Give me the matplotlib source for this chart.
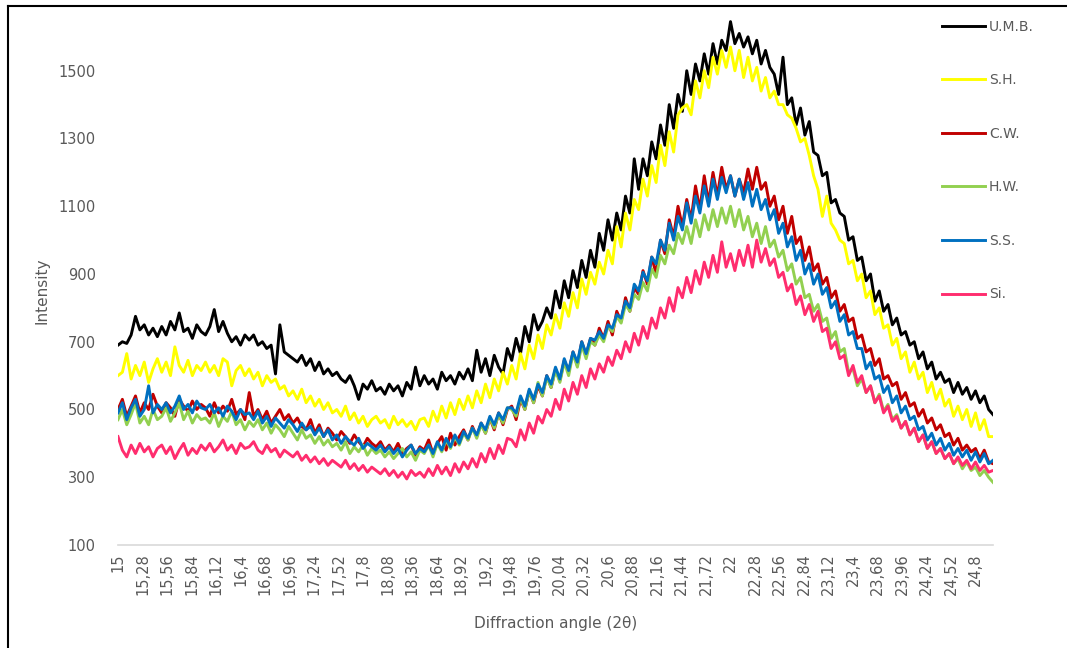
import numpy as np
import matplotlib
matplotlib.use("Agg")
import matplotlib.pyplot as plt
from matplotlib.lines import Line2D

# ------------------------------------------------------------
# data (2theta step 0.05 from 15 to 25)
# ------------------------------------------------------------
two_theta = np.round(np.arange(15.0, 25.0001, 0.05), 2)

umb = [
    690, 700, 695, 720, 775, 735, 750, 720, 740, 715,
    745, 720, 760, 735, 785, 730, 740, 710, 750, 730,
    720, 745, 795, 730, 760, 725, 700, 715, 690, 720,
    705, 720, 690, 700, 680, 690, 605, 750, 670, 660,
    650, 640, 660, 630, 650, 615, 640, 605, 620, 600,
    610, 590, 580, 600, 570, 530, 575, 560, 585, 555,
    565, 545, 575, 555, 570, 540, 580, 560, 625, 570,
    600, 575, 590, 560, 610, 585, 600, 575, 610, 590,
    620, 585, 675, 610, 650, 600, 660, 625, 605, 680,
    645, 710, 665, 745, 700, 780, 735, 760, 800, 770,
    850, 800, 880, 830, 910, 860, 940, 890, 970, 920,
    1020, 970, 1060, 1000, 1080, 1030, 1130, 1080, 1240, 1150,
    1240, 1190, 1290, 1240, 1340, 1280, 1400, 1330, 1430, 1380,
    1500, 1430, 1520, 1470, 1550, 1490, 1580, 1520, 1590, 1560,
    1645, 1580, 1610, 1570, 1600, 1550, 1590, 1520, 1560, 1510,
    1490, 1430, 1540, 1400, 1420, 1340, 1390, 1310, 1350, 1260,
    1250, 1190, 1200, 1110, 1120, 1080, 1070, 1000, 1010, 940,
    950, 880, 900, 820, 850, 790, 810, 750, 770, 720,
    730, 690, 700, 650, 670, 620, 640, 590, 610, 580,
    590, 550, 580, 545, 565, 530, 555, 520, 540, 500,
    485,
]

sh = [
    600, 610, 665, 590, 630, 600, 640, 580, 620, 650,
    610, 640, 600, 685, 630, 610, 645, 600, 630, 615,
    640, 610, 630, 600, 650, 640, 570, 615, 630, 600,
    620, 590, 610, 570, 600, 580, 590, 560, 570, 540,
    555, 530, 560, 520, 540, 510, 530, 500, 520, 490,
    500, 480, 510, 470, 490, 460, 480, 450, 470, 480,
    460, 470, 445, 480, 455, 470, 450, 465, 440, 470,
    475, 450, 495, 465, 510, 475, 520, 485, 530, 500,
    540, 505, 555, 520, 575, 535, 590, 555, 610, 575,
    630, 590, 665, 620, 690, 650, 720, 680, 750, 720,
    780, 740, 815, 775, 845, 800, 885, 840, 905, 870,
    935, 900, 970, 930, 1040, 980, 1080, 1030, 1120, 1090,
    1180, 1130, 1220, 1170, 1280, 1220, 1320, 1260, 1370, 1390,
    1400, 1370, 1470, 1420, 1500, 1450, 1540, 1490, 1560, 1510,
    1570, 1500, 1560, 1480, 1540, 1470, 1510, 1440, 1480, 1420,
    1440, 1400, 1400, 1370, 1360, 1330, 1290, 1300, 1250, 1190,
    1150, 1070, 1130, 1050, 1030, 1000, 990, 930, 940, 880,
    900, 830, 850, 780, 800, 740, 750, 690, 710, 650,
    670, 610, 640, 590, 610, 550, 580, 530, 560, 510,
    530, 480, 510, 470, 500, 450, 490, 440, 470, 420,
    420,
]

cw = [
    500, 530, 480, 510, 540, 490, 520, 500, 545, 510,
    490, 520, 505, 480, 530, 510, 495, 525, 500, 515,
    505, 480, 520, 490, 510, 495, 530, 485, 500, 470,
    550, 480, 500, 470, 495, 460, 480, 500, 470, 485,
    460, 475, 450, 440, 470, 430, 455, 420, 445, 430,
    410, 435, 420, 400, 425, 405, 390, 415, 400, 390,
    405, 380, 395, 375, 400, 370, 385, 395, 365, 390,
    380, 410, 370, 400, 420, 380, 430, 395, 420, 440,
    410, 450, 420, 460, 430, 475, 440, 490, 455, 500,
    510, 470, 530, 500, 555, 520, 570, 540, 600, 565,
    620, 585, 645, 610, 670, 630, 700, 660, 710, 690,
    740, 710, 760, 720, 790, 760, 830, 790, 860, 840,
    910, 870, 950, 900, 1000, 960, 1060, 1010, 1100, 1040,
    1120, 1060, 1160, 1090, 1190, 1110, 1200, 1130, 1215, 1150,
    1190, 1130, 1180, 1140, 1210, 1150, 1215, 1150, 1170, 1100,
    1130, 1060, 1100, 1020, 1070, 990, 1010, 940, 980, 910,
    930, 870, 890, 830, 850, 790, 810, 760, 770, 710,
    720, 670, 680, 630, 650, 590, 600, 570, 580, 530,
    550, 510, 520, 480, 500, 460, 475, 440, 455, 420,
    430, 395, 415, 380, 395, 375, 385, 355, 380, 345,
    340,
]

hw = [
    470, 500, 455, 485, 520, 460, 480, 455, 500, 470,
    480, 505, 465, 490, 520, 470, 495, 460, 485, 470,
    475, 460, 490, 450, 480, 465, 495, 455, 470, 440,
    465, 450, 470, 440, 460, 430, 455, 440, 420, 450,
    430, 410, 440, 415, 425, 400, 420, 395, 410, 390,
    400, 380, 405, 370, 390, 375, 395, 365, 385, 370,
    380, 360, 375, 355, 370, 385, 360, 375, 350, 380,
    370, 395, 360, 400, 375, 410, 385, 420, 395, 430,
    410, 445, 415, 455, 430, 475, 445, 485, 460, 505,
    500, 480, 535, 500, 555, 520, 580, 540, 595, 565,
    615, 580, 640, 600, 665, 625, 690, 650, 700, 690,
    720, 700, 745, 730, 775, 755, 810, 790, 840, 825,
    875, 850, 915, 890, 955, 930, 985, 960, 1020, 990,
    1040, 990, 1060, 1010, 1075, 1030, 1090, 1040, 1095, 1050,
    1100, 1040, 1090, 1030, 1070, 1010, 1050, 990, 1040, 980,
    1000, 950, 970, 910, 930, 870, 890, 830, 840, 790,
    810, 760, 770, 710, 730, 670, 680, 610, 620, 570,
    590, 550, 570, 520, 545, 495, 515, 470, 485, 445,
    465, 425, 445, 405, 425, 385, 405, 370, 385, 355,
    370, 340, 355, 325, 345, 320, 330, 305, 320, 300,
    285,
]

ss = [
    490, 520, 470, 505, 530, 480, 500, 570, 490, 515,
    500, 520, 490, 510, 540, 500, 515, 490, 525, 505,
    500, 515, 490, 505, 480, 510, 495, 470, 500, 485,
    490, 470, 495, 460, 480, 450, 475, 460, 445, 470,
    455, 435, 460, 440, 450, 425, 445, 420, 440, 410,
    425, 400, 420, 405, 395, 415, 385, 400, 390, 380,
    395, 375, 390, 370, 385, 360, 380, 395, 370, 385,
    375, 395, 370, 405, 380, 415, 390, 425, 400, 435,
    415, 445, 425, 460, 440, 480, 455, 490, 470, 505,
    505, 490, 540, 510, 560, 530, 575, 550, 600, 575,
    625, 590, 650, 615, 670, 640, 700, 665, 710, 705,
    730, 710, 750, 740, 780, 770, 820, 800, 870, 850,
    905, 880, 950, 930, 1000, 970, 1050, 1000, 1070, 1030,
    1110, 1050, 1130, 1080, 1160, 1100, 1180, 1120, 1185, 1140,
    1190, 1130, 1180, 1120, 1170, 1100, 1150, 1090, 1120, 1060,
    1090, 1020, 1050, 980, 1010, 940, 970, 900, 930, 870,
    900, 840, 860, 800, 820, 760, 780, 720, 730, 680,
    680, 620, 640, 590, 600, 550, 570, 520, 540, 490,
    510, 470, 480, 440, 450, 410, 430, 395, 415, 380,
    400, 365, 385, 360, 380, 350, 375, 345, 370, 340,
    350,
]

si = [
    420, 380, 360, 395, 370, 400, 375, 390, 360, 385,
    395, 370, 390, 355, 380, 400, 365, 385, 370, 395,
    380, 400, 375, 390, 410, 380, 395, 370, 400, 385,
    390, 405, 380, 370, 395, 375, 385, 360, 380, 370,
    360, 375, 350, 365, 345, 360, 340, 355, 335, 350,
    340, 330, 350, 325, 340, 320, 335, 315, 330, 320,
    310, 325, 305, 320, 300, 315, 295, 320, 305, 315,
    300, 325, 305, 335, 310, 330, 305, 340, 315, 345,
    325, 355, 330, 370, 345, 385, 355, 395, 370, 415,
    410, 390, 440, 410, 460, 430, 480, 460, 500, 480,
    530, 500, 560, 525, 580, 545, 600, 565, 620, 590,
    635, 610, 655, 630, 675, 650, 700, 670, 725, 690,
    745, 710, 770, 740, 800, 770, 830, 790, 860, 830,
    890, 845, 910, 870, 935, 890, 955, 905, 995, 920,
    960, 910, 970, 925, 985, 920, 1000, 935, 975, 925,
    945, 890, 905, 850, 870, 810, 835, 780, 810, 760,
    790, 730, 740, 680, 700, 650, 660, 600, 630, 580,
    600, 550, 570, 520, 540, 490, 510, 465, 480, 445,
    465, 425, 445, 405, 425, 385, 405, 370, 385, 355,
    370, 340, 360, 335, 350, 325, 345, 320, 335, 315,
    320,
]

series_names = ["U.M.B.", "S.H.", "C.W.", "H.W.", "S.S.", "Si."]
series_values = [umb, sh, cw, hw, ss, si]
series_colors = ["#000000", "#FFFF00", "#C00000", "#92D050", "#0070C0", "#FF2D6E"]

tick_positions = [round(15 + 0.28 * k, 2) for k in range(36)]
tick_labels = [f"{v:g}".replace(".", ",") for v in tick_positions]
y_ticks = [100, 300, 500, 700, 900, 1100, 1300, 1500]

# ------------------------------------------------------------
# plot
# ------------------------------------------------------------
W, H = 1067, 648
fig = plt.figure(figsize=(W / 100, H / 100), dpi=100)
ax = fig.add_axes([118 / W, 1 - 545 / H, (993 - 118) / W, (545 - 3) / H])

for name, vals, col in zip(series_names, series_values, series_colors):
    ax.plot(two_theta, vals, color=col, linewidth=2.1, label=name,
            solid_joinstyle="round")

ax.set_xlim(15, 25)
ax.set_ylim(100, 1700)
ax.set_xticks(tick_positions)
ax.set_xticklabels(tick_labels, rotation=90, fontsize=10.5, color="#595959")
ax.set_yticks(y_ticks)
ax.set_yticklabels([str(v) for v in y_ticks], fontsize=10.5, color="#595959")
ax.tick_params(axis="both", length=0)
ax.tick_params(axis="x", pad=6)
ax.tick_params(axis="y", pad=16)

for side in ["top", "right", "left"]:
    ax.spines[side].set_visible(False)
ax.spines["bottom"].set_color("#D9D9D9")
ax.spines["bottom"].set_linewidth(1.2)

ax.set_xlabel("Diffraction angle (2θ)", fontsize=11, color="#595959", labelpad=15)
ax.set_ylabel("Intensity", fontsize=11, color="#595959")
ax.yaxis.set_label_coords(-0.078, 0.47)

ax.legend(loc="upper left", bbox_to_anchor=(936 / W, 1 - 14 / H),
          bbox_transform=fig.transFigure, frameon=False, fontsize=10,
          labelcolor="#595959", handlelength=3.1, handletextpad=0.3,
          labelspacing=2.85, borderaxespad=0)

# outer frame (left and top edges visible in the reference)
fig.add_artist(Line2D([8 / W, 8 / W], [0, 1 - 6 / H], color="black", linewidth=1.5,
                      transform=fig.transFigure))
fig.add_artist(Line2D([8 / W, 1], [1 - 6 / H, 1 - 6 / H], color="black", linewidth=1.5,
                      transform=fig.transFigure))

fig.savefig("out.png", dpi=100)
